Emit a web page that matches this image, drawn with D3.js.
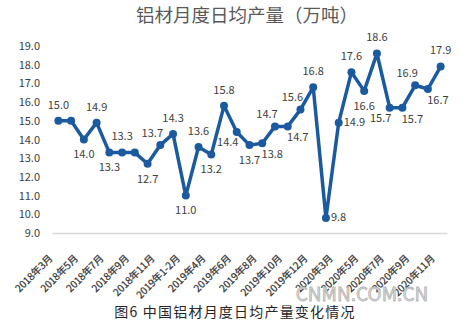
<!DOCTYPE html>
<html>
<head>
<meta charset="utf-8">
<script src="https://cdn.jsdelivr.net/npm/d3@7/dist/d3.min.js"></script>
<style>
  html, body { margin: 0; padding: 0; background: #ffffff; }
  svg { display: block; }
  text { font-family: "Noto Sans CJK SC", "Noto Sans", sans-serif; }
</style>
</head>
<body>
<svg id="chart" width="462" height="325"></svg>
<script>
// Monthly periods (Jan–Feb reported together)
const months = [
  "2018年3月", "2018年4月", "2018年5月", "2018年6月", "2018年7月", "2018年8月",
  "2018年9月", "2018年10月", "2018年11月", "2018年12月",
  "2019年1-2月", "2019年3月", "2019年4月", "2019年5月", "2019年6月", "2019年7月",
  "2019年8月", "2019年9月", "2019年10月", "2019年11月", "2019年12月",
  "2020年1-2月", "2020年3月", "2020年4月", "2020年5月", "2020年6月", "2020年7月",
  "2020年8月", "2020年9月", "2020年10月", "2020年11月"
];

// Average daily output of aluminium products, 10k tonnes
const output = [
  15.0, 15.0, 14.0, 14.9, 13.3, 13.3, 13.3, 12.7, 13.7, 14.3,
  11.0, 13.6, 13.2, 15.8, 14.4, 13.7, 13.8, 14.7, 14.7, 15.6, 16.8,
  9.8, 14.9, 17.6, 16.6, 18.6, 15.7, 15.7, 16.9, 16.7, 17.9
];

// Y axis ticks
const yTicks = [9, 10, 11, 12, 13, 14, 15, 16, 17, 18, 19];

// Every other period gets a category label
const xTickLabels = months.filter((d, i) => i % 2 === 0);

// Where each value label sits relative to its point ("n" = no label)
const labelPlacement = [
  "t", "n", "b", "t", "b", "t", "n", "b", "tl", "t",
  "b", "t", "b", "t", "bl", "b", "br", "tl", "br", "tl", "t",
  "r", "r", "t", "b", "t", "bl", "br", "tl", "br", "t"
];

const placementOffsets = {
  t:  { dx: 0,   dy: -16, anchor: "middle" },
  b:  { dx: 0,   dy: 15,  anchor: "middle" },
  tl: { dx: -8,  dy: -12, anchor: "middle" },
  bl: { dx: -9,  dy: 10,  anchor: "middle" },
  br: { dx: 10,  dy: 11,  anchor: "middle" },
  r:  { dx: 5,   dy: -1,  anchor: "start" }
};

const svg = d3.select("#chart");
const lineColor = "#1c5a9f";
const textColor = "#595959";

const x = d3.scaleBand().domain(months).range([52, 447]).padding(0);
const y = d3.scaleLinear().domain([9, 19]).range([233, 46]);
const cx = d => x(d) + x.bandwidth() / 2;

// Title
svg.append("text")
  .attr("x", 247).attr("y", 22)
  .attr("text-anchor", "middle")
  .attr("font-size", 18.5)
  .attr("fill", textColor)
  .text("铝材月度日均产量（万吨）");

// Y axis: labels only, no gridlines
const yAxis = d3.axisLeft(y)
  .tickValues(yTicks)
  .tickFormat(d3.format(".1f"))
  .tickSize(0)
  .tickPadding(0);
const yG = svg.append("g").attr("transform", "translate(40,0)").call(yAxis);
yG.select(".domain").remove();
yG.selectAll("text")
  .attr("font-size", 11)
  .attr("fill", "#404040")
  .attr("font-family", "Calibri, Carlito, 'Liberation Sans', sans-serif");

// X axis baseline with rotated category labels
const xAxis = d3.axisBottom(x)
  .tickValues(xTickLabels)
  .tickSize(0)
  .tickPadding(0);
const xG = svg.append("g").attr("transform", `translate(0,${y(9)})`).call(xAxis);
xG.select(".domain").attr("stroke", "#d9d9d9").attr("stroke-width", 1.5);
xG.selectAll(".tick text")
  .attr("font-size", 10)
  .attr("fill", "#333333")
  .attr("stroke", "#333333")
  .attr("stroke-width", 0.25)
  .attr("text-anchor", "end")
  .attr("dy", 0)
  .attr("transform", "translate(-5,26) rotate(-45)");

// Series line
const line = d3.line()
  .x((d, i) => cx(months[i]))
  .y(d => y(d));

svg.append("path")
  .datum(output)
  .attr("d", line)
  .attr("fill", "none")
  .attr("stroke", lineColor)
  .attr("stroke-width", 3.5)
  .attr("stroke-linejoin", "round");

svg.append("g")
  .selectAll("circle")
  .data(output)
  .join("circle")
  .attr("cx", (d, i) => cx(months[i]))
  .attr("cy", d => y(d))
  .attr("r", 4)
  .attr("fill", lineColor);

// Value labels
svg.append("g")
  .selectAll("text")
  .data(output.map((v, i) => ({ v, i, p: labelPlacement[i] })).filter(d => d.p !== "n"))
  .join("text")
  .attr("x", d => cx(months[d.i]) + placementOffsets[d.p].dx)
  .attr("y", d => y(d.v) + placementOffsets[d.p].dy)
  .attr("dy", "0.35em")
  .attr("text-anchor", d => placementOffsets[d.p].anchor)
  .attr("font-size", 11)
  .attr("fill", "#404040")
  .attr("font-family", "Calibri, Carlito, 'Liberation Sans', sans-serif")
  .text(d => d3.format(".1f")(d.v));

// Site mark
svg.append("text")
  .attr("x", 362).attr("y", 301)
  .attr("text-anchor", "middle")
  .attr("font-size", 19)
  .attr("font-family", "'Liberation Sans', Arial, sans-serif")
  .attr("fill", "#dcdcdc")
  .attr("stroke", "#b5b5b5")
  .attr("stroke-width", 0.8)
  .text("CNMN.COM.CN");

// Caption
svg.append("text")
  .attr("x", 235).attr("y", 317)
  .attr("text-anchor", "middle")
  .attr("font-size", 14)
  .attr("letter-spacing", 1.2)
  .attr("fill", "#262626")
  .text("图6 中国铝材月度日均产量变化情况");
</script>
</body>
</html>
